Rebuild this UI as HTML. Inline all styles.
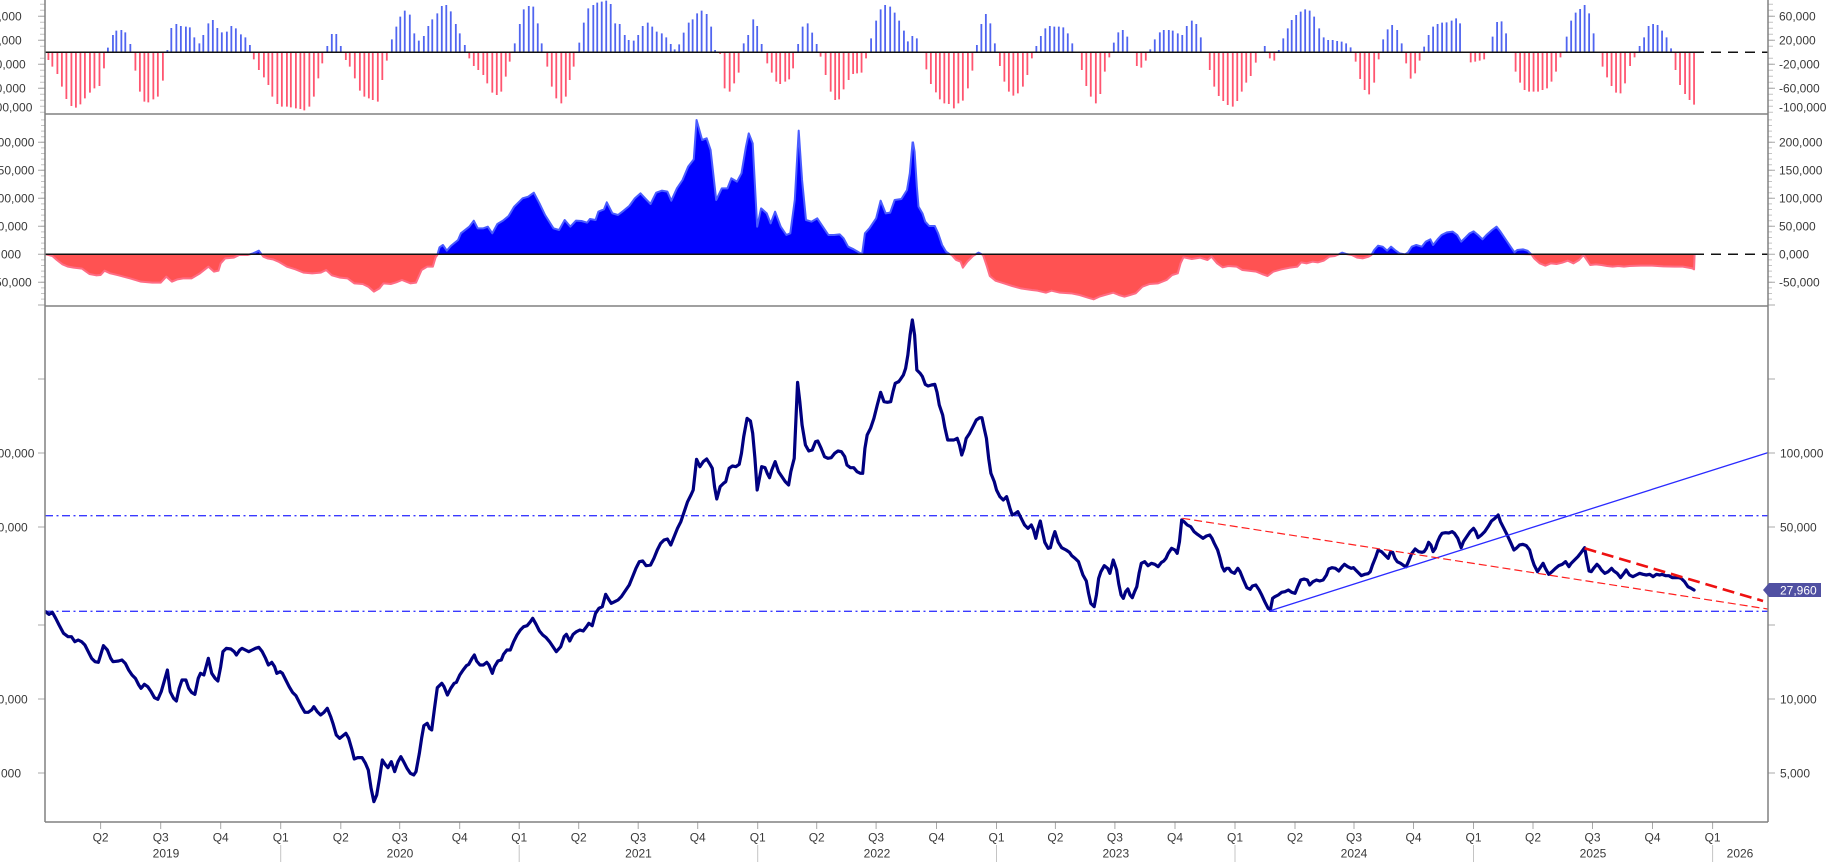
<!DOCTYPE html>
<html><head><meta charset="utf-8"><style>
html,body{margin:0;padding:0;background:#fff;}
svg{display:block;}
text{font-family:"Liberation Sans",Arial,sans-serif;font-size:12px;fill:#3a3a3a;}
</style></head><body>
<svg width="1826" height="862" viewBox="0 0 1826 862" xmlns="http://www.w3.org/2000/svg">
<defs>
<clipPath id="p1"><rect x="45" y="0" width="1723" height="114"/></clipPath>
<clipPath id="above"><rect x="45" y="114" width="1723" height="140.3"/></clipPath>
<clipPath id="below"><rect x="45" y="254.3" width="1723" height="52"/></clipPath>
<clipPath id="pm"><rect x="45" y="306" width="1723" height="516"/></clipPath>
<polygon id="a9" points="10,763 22,768 30,780 40,793 50,800 60,803 75,806 88,822 100,826 108,825 115,812 125,820 140,826 160,835 180,845 200,848 215,848 225,830 235,845 245,838 255,835 270,835 285,820 300,800 310,815 318,812 322,790 330,775 345,773 355,765 370,765 380,760 390,752 398,770 405,775 415,778 425,785 440,800 455,808 470,818 485,820 500,818 510,810 520,826 535,833 548,835 560,850 575,852 585,860 595,875 605,865 612,850 625,852 635,847 645,840 660,850 670,848 680,810 690,800 700,800 705,772 708,765 712,742 718,735 725,752 732,738 745,720 750,700 765,680 773,662 780,685 790,685 798,680 806,700 815,672 825,662 835,648 845,620 860,595 870,590 880,578 890,610 900,645 915,685 925,690 935,660 945,680 955,662 965,663 975,668 980,657 990,660 995,635 1005,628 1010,607 1020,640 1030,645 1040,632 1050,618 1060,595 1070,580 1080,598 1088,612 1098,578 1108,572 1118,575 1125,602 1135,565 1145,540 1155,500 1165,478 1170,360 1180,420 1188,415 1195,450 1205,600 1215,565 1225,565 1232,535 1242,545 1250,520 1258,440 1263,400 1270,430 1278,680 1285,625 1295,640 1302,670 1310,635 1320,680 1330,705 1337,700 1345,600 1352,392 1358,540 1365,660 1375,665 1385,655 1395,680 1405,705 1415,705 1425,703 1432,715 1440,740 1450,748 1460,758 1465,762 1470,700 1478,685 1490,655 1498,602 1507,640 1515,638 1523,600 1535,597 1545,570 1550,520 1555,425 1556,425 1556,763"/>
<polyline id="c9" points="10,763 22,768 30,780 40,793 50,800 60,803 75,806 88,822 100,826 108,825 115,812 125,820 140,826 160,835 180,845 200,848 215,848 225,830 235,845 245,838 255,835 270,835 285,820 300,800 310,815 318,812 322,790 330,775 345,773 355,765 370,765 380,760 390,752 398,770 405,775 415,778 425,785 440,800 455,808 470,818 485,820 500,818 510,810 520,826 535,833 548,835 560,850 575,852 585,860 595,875 605,865 612,850 625,852 635,847 645,840 660,850 670,848 680,810 690,800 700,800 705,772 708,765 712,742 718,735 725,752 732,738 745,720 750,700 765,680 773,662 780,685 790,685 798,680 806,700 815,672 825,662 835,648 845,620 860,595 870,590 880,578 890,610 900,645 915,685 925,690 935,660 945,680 955,662 965,663 975,668 980,657 990,660 995,635 1005,628 1010,607 1020,640 1030,645 1040,632 1050,618 1060,595 1070,580 1080,598 1088,612 1098,578 1108,572 1118,575 1125,602 1135,565 1145,540 1155,500 1165,478 1170,360 1180,420 1188,415 1195,450 1205,600 1215,565 1225,565 1232,535 1242,545 1250,520 1258,440 1263,400 1270,430 1278,680 1285,625 1295,640 1302,670 1310,635 1320,680 1330,705 1337,700 1345,600 1352,392 1358,540 1365,660 1375,665 1385,655 1395,680 1405,705 1415,705 1425,703 1432,715 1440,740 1450,748 1460,758 1465,762 1470,700 1478,685 1490,655 1498,602 1507,640 1515,638 1523,600 1535,597 1545,570 1550,520 1555,425"/>
<polygon id="a10" points="22,425 23,425 26,455 30,560 33,620 40,640 45,665 52,678 62,678 68,700 75,735 82,755 88,762 92,765 100,780 108,785 112,803 120,785 130,768 140,758 148,765 155,800 160,828 170,842 185,850 200,858 215,865 235,870 245,872 260,878 270,872 285,878 305,880 320,885 335,893 345,898 355,890 365,885 380,878 390,885 400,890 410,885 420,880 432,860 445,852 460,850 475,840 485,825 495,820 500,790 505,772 520,777 535,773 548,780 555,770 565,790 575,802 585,798 600,800 610,810 620,812 635,815 645,822 655,828 665,815 680,808 695,803 708,800 715,787 725,790 735,785 745,787 755,782 765,770 775,768 782,763 788,758 795,762 805,765 815,773 825,775 835,770 840,765 845,750 852,737 860,740 868,752 875,740 882,750 890,760 900,763 905,758 912,740 920,735 930,740 937,725 945,718 950,735 958,718 965,705 975,697 985,695 993,705 1000,725 1008,712 1015,700 1022,694 1030,705 1038,718 1045,705 1055,690 1063,680 1070,695 1080,720 1090,745 1095,757 1100,750 1110,748 1118,752 1125,763 1130,775 1140,790 1150,797 1160,790 1170,792 1180,788 1190,782 1200,790 1210,780 1218,765 1222,775 1230,795 1240,793 1250,795 1260,798 1270,800 1280,798 1290,800 1300,798 1320,797 1340,797 1360,799 1380,800 1395,800 1405,803 1412,805 1415,808 1416,763 22,763"/>
<polyline id="c10" points="23,425 26,455 30,560 33,620 40,640 45,665 52,678 62,678 68,700 75,735 82,755 88,762 92,765 100,780 108,785 112,803 120,785 130,768 140,758 148,765 155,800 160,828 170,842 185,850 200,858 215,865 235,870 245,872 260,878 270,872 285,878 305,880 320,885 335,893 345,898 355,890 365,885 380,878 390,885 400,890 410,885 420,880 432,860 445,852 460,850 475,840 485,825 495,820 500,790 505,772 520,777 535,773 548,780 555,770 565,790 575,802 585,798 600,800 610,810 620,812 635,815 645,822 655,828 665,815 680,808 695,803 708,800 715,787 725,790 735,785 745,787 755,782 765,770 775,768 782,763 788,758 795,762 805,765 815,773 825,775 835,770 840,765 845,750 852,737 860,740 868,752 875,740 882,750 890,760 900,763 905,758 912,740 920,735 930,740 937,725 945,718 950,735 958,718 965,705 975,697 985,695 993,705 1000,725 1008,712 1015,700 1022,694 1030,705 1038,718 1045,705 1055,690 1063,680 1070,695 1080,720 1090,745 1095,757 1100,750 1110,748 1118,752 1125,763 1130,775 1140,790 1150,797 1160,790 1170,792 1180,788 1190,782 1200,790 1210,780 1218,765 1222,775 1230,795 1240,793 1250,795 1260,798 1270,800 1280,798 1290,800 1300,798 1320,797 1340,797 1360,799 1380,800 1395,800 1405,803 1412,805 1415,808 1416,763"/>
</defs>
<rect width="1826" height="862" fill="#fff"/>

<!-- ticks -->
<g stroke="#c4c4c4" stroke-width="1">
<path d="M40 4.3H45M40 10.3H45M40 16.3H45M40 22.3H45M40 28.3H45M40 34.3H45M40 40.3H45M40 46.3H45M40 58.3H45M40 64.3H45M40 70.3H45M40 76.3H45M40 82.3H45M40 88.3H45M40 94.3H45M40 100.3H45M40 106.3H45M40 112.3H45"/>
<path d="M1768 4.3H1773M1768 10.3H1773M1768 16.3H1773M1768 22.3H1773M1768 28.3H1773M1768 34.3H1773M1768 40.3H1773M1768 46.3H1773M1768 58.3H1773M1768 64.3H1773M1768 70.3H1773M1768 76.3H1773M1768 82.3H1773M1768 88.3H1773M1768 94.3H1773M1768 100.3H1773M1768 106.3H1773M1768 112.3H1773"/>
<path d="M41 119.9H45M41 125.5H45M41 131.1H45M41 136.7H45M41 142.3H45M41 147.9H45M41 153.5H45M41 159.1H45M41 164.7H45M41 170.3H45M41 175.9H45M41 181.5H45M41 187.1H45M41 192.7H45M41 198.3H45M41 203.9H45M41 209.5H45M41 215.1H45M41 220.7H45M41 226.3H45M41 231.9H45M41 237.5H45M41 243.1H45M41 248.7H45M41 259.9H45M41 265.5H45M41 271.1H45M41 276.7H45M41 282.3H45M41 287.9H45M41 293.5H45M41 299.1H45"/>
<path d="M1768 119.9H1772M1768 125.5H1772M1768 131.1H1772M1768 136.7H1772M1768 142.3H1772M1768 147.9H1772M1768 153.5H1772M1768 159.1H1772M1768 164.7H1772M1768 170.3H1772M1768 175.9H1772M1768 181.5H1772M1768 187.1H1772M1768 192.7H1772M1768 198.3H1772M1768 203.9H1772M1768 209.5H1772M1768 215.1H1772M1768 220.7H1772M1768 226.3H1772M1768 231.9H1772M1768 237.5H1772M1768 243.1H1772M1768 248.7H1772M1768 259.9H1772M1768 265.5H1772M1768 271.1H1772M1768 276.7H1772M1768 282.3H1772M1768 287.9H1772M1768 293.5H1772M1768 299.1H1772"/>
</g>
<g stroke="#a8a8a8" stroke-width="1">
<path d="M38 16.3H45M38 40.3H45M38 64.3H45M38 88.3H45M1768 16.3H1775M1768 40.3H1775M1768 64.3H1775M1768 88.3H1775"/>
<path d="M38 142.3H45M38 170.3H45M38 198.3H45M38 226.3H45M38 254.3H45M38 282.3H45M1768 142.3H1775M1768 170.3H1775M1768 198.3H1775M1768 226.3H1775M1768 254.3H1775M1768 282.3H1775"/>
<path d="M38 305H45M38 379H45M38 453H45M38 527H45M38 625H45M38 699H45M38 773H45M1768 305H1775M1768 379H1775M1768 453H1775M1768 527H1775M1768 625H1775M1768 699H1775M1768 773H1775"/>
<path d="M100.6 822V829M160.7 822V829M220.7 822V829M280.7 822V829M340.8 822V829M399.7 822V829M459.7 822V829M519.2 822V829M578.7 822V829M638.2 822V829M697.7 822V829M757.7 822V829M816.7 822V829M876.1 822V829M936.5 822V829M996.5 822V829M1055.4 822V829M1114.9 822V829M1175 822V829M1235 822V829M1295 822V829M1354 822V829M1413.5 822V829M1473.5 822V829M1533 822V829M1592.5 822V829M1652.5 822V829M1712.6 822V829"/>
<path d="M280.7 845V862M519.2 845V862M757.7 845V862M996.5 845V862M1235 845V862M1473.5 845V862M1712.6 845V862" stroke="#c4c4c4"/>
</g>

<!-- Panel 1 histogram -->
<g clip-path="url(#p1)">
<g transform="translate(40,0) scale(0.56117,0.33333)" fill="none" stroke-width="1.8">
<path vector-effect="non-scaling-stroke" stroke="#ff5570" d="M15 157V180M22 157V200M31 157V222M39 157V260M47 157V297M56 157V318M64 157V323M72 157V313M80 157V295M89 157V278M97 157V265M106 157V258M114 157V205M170 157V212M178 157V275M186 157V305M193 157V307M202 157V298M210 157V290M219 157V242M381 157V178M390 157V210M399 157V232M407 157V255M414 157V290M423 157V312M431 157V320M440 157V320M447 157V322M456 157V325M464 157V327M471 157V331M480 157V320M488 157V290M496 157V235M503 157V190M545 157V180M552 157V200M561 157V235M570 157V272M578 157V290M586 157V295M593 157V300M602 157V305M610 157V240M618 157V182M765 157V175M773 157V198M781 157V210M790 157V225M797 157V250M806 157V278M814 157V285M822 157V275M830 157V230M837 157V185M904 157V200M912 157V260M920 157V295M929 157V310M937 157V290M944 157V240M951 157V200M1212 157V162M1220 157V265M1229 157V275M1237 157V250M1245 157V218M1296 157V190M1304 157V218M1312 157V245M1319 157V252M1328 157V245M1335 157V238M1342 157V205M1391 157V170M1400 157V225M1409 157V275M1417 157V300M1424 157V298M1432 157V268M1441 157V240M1449 157V222M1456 157V220M1464 157V218M1472 157V175"/>
<path vector-effect="non-scaling-stroke" stroke="#5065f0" d="M121 157V143M130 157V105M136 157V92M145 157V90M152 157V97M161 157V132M227 157V150M234 157V84M243 157V72M251 157V78M260 157V80M267 157V82M275 157V112M284 157V130M291 157V105M300 157V70M308 157V60M316 157V84M324 157V97M333 157V95M341 157V78M349 157V85M358 157V103M366 157V112M374 157V135M512 157V138M520 157V102M528 157V102M536 157V138M627 157V118M635 157V80M642 157V50M650 157V32M659 157V44M667 157V100M675 157V122M684 157V108M692 157V78M699 157V58M708 157V40M716 157V18M724 157V15M732 157V34M741 157V72M748 157V100M757 157V135M846 157V130M855 157V72M862 157V28M871 157V18M879 157V20M887 157V70M894 157V130M961 157V128M969 157V68M977 157V25M986 157V15M993 157V8M1001 157V5M1009 157V2M1017 157V12M1025 157V70M1033 157V72M1042 157V105M1049 157V120M1058 157V122M1066 157V105M1074 157V78M1083 157V68M1091 157V80M1099 157V95M1108 157V100M1116 157V112M1124 157V132M1131 157V148M1139 157V133M1147 157V98M1156 157V68M1163 157V58M1171 157V40M1179 157V32M1188 157V42M1196 157V80M1203 157V150M1254 157V130M1262 157V105M1271 157V58M1278 157V78M1286 157V132M1351 157V132M1359 157V80M1368 157V70M1376 157V98M1384 157V132M1481 157V115M1490 157V62M1498 157V28M1506 157V15M1515 157V20M1523 157V38M1531 157V62"/>
</g>
<g transform="translate(900,0) scale(0.56117,0.33333)" fill="none" stroke-width="1.8">
<path vector-effect="non-scaling-stroke" stroke="#5065f0" d="M7 157V92M14 157V124M22 157V108M30 157V115M137 157V135M145 157V72M153 157V42M161 157V70M169 157V130M243 157V138M251 157V108M259 157V85M267 157V78M275 157V80M283 157V80M291 157V82M299 157V100M307 157V130M381 157V128M389 157V97M397 157V90M405 157V110M446 157V148M454 157V118M463 157V97M470 157V90M479 157V90M486 157V92M495 157V100M503 157V105M511 157V78M520 157V62M528 157V72M536 157V112M650 157V138M675 157V150M683 157V115M691 157V85M698 157V60M706 157V45M714 157V35M722 157V28M730 157V32M738 157V50M747 157V85M755 157V112M763 157V120M771 157V120M779 157V123M787 157V125M795 157V130M803 157V142M861 157V118M869 157V88M877 157V75M886 157V90M894 157V130M934 157V140M942 157V105M950 157V80M958 157V72M966 157V68M974 157V67M983 157V62M991 157V55M998 157V70M1056 157V110M1064 157V66M1072 157V64M1080 157V100M1188 157V110M1196 157V62M1204 157V38M1212 157V27M1220 157V15M1228 157V40M1236 157V100M1318 157V138M1326 157V112M1334 157V78M1342 157V72M1350 157V75M1358 157V92M1366 157V112M1374 157V145"/>
<path vector-effect="non-scaling-stroke" stroke="#ff5570" d="M47 157V208M55 157V252M64 157V277M71 157V298M79 157V310M87 157V312M96 157V325M104 157V310M112 157V302M121 157V265M129 157V212M178 157V198M186 157V245M194 157V275M202 157V287M210 157V280M219 157V260M227 157V225M235 157V175M324 157V210M332 157V258M340 157V290M349 157V310M357 157V282M365 157V215M373 157V172M422 157V198M430 157V203M438 157V182M552 157V210M560 157V260M568 157V288M576 157V303M584 157V315M593 157V320M601 157V303M609 157V275M617 157V248M625 157V228M634 157V188M659 157V175M667 157V182M812 157V185M820 157V237M828 157V270M836 157V283M845 157V248M853 157V178M902 157V190M910 157V236M918 157V220M926 157V182M1017 157V187M1025 157V185M1033 157V182M1041 157V178M1097 157V215M1105 157V248M1113 157V270M1121 157V275M1129 157V275M1137 157V275M1145 157V270M1153 157V265M1161 157V245M1169 157V215M1177 157V172M1252 157V200M1260 157V232M1268 157V258M1276 157V278M1284 157V280M1292 157V250M1301 157V198M1309 157V172M1382 157V210M1390 157V255M1399 157V282M1407 157V300M1415 157V314"/>
</g>
</g>
<path d="M45 52.3H1694" stroke="#111" stroke-width="1.5"/>
<path d="M1694 52.3H1768" stroke="#111" stroke-width="1.5" stroke-dasharray="10 7"/>

<!-- Panel 2 area -->
<g clip-path="url(#above)">
<g transform="translate(40,0) scale(0.56117,0.33333)">
<use href="#a9" fill="#0000ff" stroke="none"/>
</g>
<g transform="translate(900,0) scale(0.56117,0.33333)">
<use href="#a10" fill="#0000ff" stroke="none"/>
</g>
<g transform="translate(40,0) scale(0.56117,0.33333)">
<polyline vector-effect="non-scaling-stroke" fill="none" stroke="#4a5cff" stroke-width="2" stroke-linejoin="round" points="10,763 22,768 30,780 40,793 50,800 60,803 75,806 88,822 100,826 108,825 115,812 125,820 140,826 160,835 180,845 200,848 215,848 225,830 235,845 245,838 255,835 270,835 285,820 300,800 310,815 318,812 322,790 330,775 345,773 355,765 370,765 380,760 390,752 398,770 405,775 415,778 425,785 440,800 455,808 470,818 485,820 500,818 510,810 520,826 535,833 548,835 560,850 575,852 585,860 595,875 605,865 612,850 625,852 635,847 645,840 660,850 670,848 680,810 690,800 700,800 705,772 708,765 712,742 718,735 725,752 732,738 745,720 750,700 765,680 773,662 780,685 790,685 798,680 806,700 815,672 825,662 835,648 845,620 860,595 870,590 880,578 890,610 900,645 915,685 925,690 935,660 945,680 955,662 965,663 975,668 980,657 990,660 995,635 1005,628 1010,607 1020,640 1030,645 1040,632 1050,618 1060,595 1070,580 1080,598 1088,612 1098,578 1108,572 1118,575 1125,602 1135,565 1145,540 1155,500 1165,478 1170,360 1180,420 1188,415 1195,450 1205,600 1215,565 1225,565 1232,535 1242,545 1250,520 1258,440 1263,400 1270,430 1278,680 1285,625 1295,640 1302,670 1310,635 1320,680 1330,705 1337,700 1345,600 1352,392 1358,540 1365,660 1375,665 1385,655 1395,680 1405,705 1415,705 1425,703 1432,715 1440,740 1450,748 1460,758 1465,762 1470,700 1478,685 1490,655 1498,602 1507,640 1515,638 1523,600 1535,597 1545,570 1550,520 1555,425"/>
</g>
<g transform="translate(900,0) scale(0.56117,0.33333)">
<polyline vector-effect="non-scaling-stroke" fill="none" stroke="#4a5cff" stroke-width="2" stroke-linejoin="round" points="23,425 26,455 30,560 33,620 40,640 45,665 52,678 62,678 68,700 75,735 82,755 88,762 92,765 100,780 108,785 112,803 120,785 130,768 140,758 148,765 155,800 160,828 170,842 185,850 200,858 215,865 235,870 245,872 260,878 270,872 285,878 305,880 320,885 335,893 345,898 355,890 365,885 380,878 390,885 400,890 410,885 420,880 432,860 445,852 460,850 475,840 485,825 495,820 500,790 505,772 520,777 535,773 548,780 555,770 565,790 575,802 585,798 600,800 610,810 620,812 635,815 645,822 655,828 665,815 680,808 695,803 708,800 715,787 725,790 735,785 745,787 755,782 765,770 775,768 782,763 788,758 795,762 805,765 815,773 825,775 835,770 840,765 845,750 852,737 860,740 868,752 875,740 882,750 890,760 900,763 905,758 912,740 920,735 930,740 937,725 945,718 950,735 958,718 965,705 975,697 985,695 993,705 1000,725 1008,712 1015,700 1022,694 1030,705 1038,718 1045,705 1055,690 1063,680 1070,695 1080,720 1090,745 1095,757 1100,750 1110,748 1118,752 1125,763 1130,775 1140,790 1150,797 1160,790 1170,792 1180,788 1190,782 1200,790 1210,780 1218,765 1222,775 1230,795 1240,793 1250,795 1260,798 1270,800 1280,798 1290,800 1300,798 1320,797 1340,797 1360,799 1380,800 1395,800 1405,803 1412,805 1415,808"/>
</g>
</g>
<g clip-path="url(#below)">
<g transform="translate(40,0) scale(0.56117,0.33333)">
<use href="#a9" fill="#ff5252" stroke="none"/>
<polyline vector-effect="non-scaling-stroke" fill="none" stroke="#ff6c84" stroke-width="2" stroke-linejoin="round" points="10,763 22,768 30,780 40,793 50,800 60,803 75,806 88,822 100,826 108,825 115,812 125,820 140,826 160,835 180,845 200,848 215,848 225,830 235,845 245,838 255,835 270,835 285,820 300,800 310,815 318,812 322,790 330,775 345,773 355,765 370,765 380,760 390,752 398,770 405,775 415,778 425,785 440,800 455,808 470,818 485,820 500,818 510,810 520,826 535,833 548,835 560,850 575,852 585,860 595,875 605,865 612,850 625,852 635,847 645,840 660,850 670,848 680,810 690,800 700,800 705,772 708,765 712,742"/>
</g>
<g transform="translate(900,0) scale(0.56117,0.33333)">
<use href="#a10" fill="#ff5252" stroke="none"/>
<polyline vector-effect="non-scaling-stroke" fill="none" stroke="#ff6c84" stroke-width="2" stroke-linejoin="round" points="88,762 92,765 100,780 108,785 112,803 120,785 130,768 140,758 148,765 155,800 160,828 170,842 185,850 200,858 215,865 235,870 245,872 260,878 270,872 285,878 305,880 320,885 335,893 345,898 355,890 365,885 380,878 390,885 400,890 410,885 420,880 432,860 445,852 460,850 475,840 485,825 495,820 500,790 505,772 520,777 535,773 548,780 555,770 565,790 575,802 585,798 600,800 610,810 620,812 635,815 645,822 655,828 665,815 680,808 695,803 708,800 715,787 725,790 735,785 745,787 755,782 765,770 775,768 782,763 788,758 795,762 805,765 815,773 825,775 835,770 840,765 845,750 1125,763 1130,775 1140,790 1150,797 1160,790 1170,792 1180,788 1190,782 1200,790 1210,780 1218,765 1222,775 1230,795 1240,793 1250,795 1260,798 1270,800 1280,798 1290,800 1300,798 1320,797 1340,797 1360,799 1380,800 1395,800 1405,803 1412,805 1415,808 1416,763"/>
</g>
</g>
<path d="M45 254.3H1694" stroke="#111" stroke-width="1.5"/>
<path d="M1694 254.3H1768" stroke="#111" stroke-width="1.5" stroke-dasharray="10 7"/>

<!-- Main panel -->
<g clip-path="url(#pm)">
<path d="M45 515.7H1768M45 611.3H1768" stroke="#3a3aff" stroke-width="1.3" stroke-dasharray="8 3.5 2 3.5" fill="none"/>
<g fill="none" stroke="#000080" stroke-width="3.2" stroke-linejoin="round" stroke-linecap="round">
<g transform="translate(40,305) scale(0.56117,0.33333)">
<polyline vector-effect="non-scaling-stroke" points="10,920 16,928 22,922 28,940 34,960 42,985 50,995 56,995 62,1010 68,1005 74,1010 80,1020 86,1040 92,1060 98,1070 104,1072 108,1050 113,1022 120,1035 126,1060 130,1070 140,1068 146,1065 152,1075 158,1095 164,1110 170,1120 176,1140 180,1150 186,1138 192,1145 198,1160 204,1178 210,1183 216,1160 222,1125 227,1095 232,1160 238,1180 243,1188 248,1150 253,1125 260,1125 265,1150 270,1162 276,1168 282,1120 286,1105 292,1110 300,1060 306,1105 312,1120 317,1128 322,1085 326,1040 332,1030 340,1032 346,1040 350,1050 356,1035 360,1030 366,1035 372,1040 378,1035 384,1030 390,1027 396,1040 402,1060 407,1080 413,1072 418,1085 422,1105 428,1100 432,1105 438,1125 444,1145 450,1162 456,1172 460,1185 466,1205 472,1222 478,1222 484,1215 488,1205 494,1220 500,1230 506,1222 512,1210 518,1235 522,1255 528,1290 534,1300 540,1292 545,1285 550,1300 556,1335 560,1362 566,1358 574,1358 580,1375 585,1395 590,1450 595,1490 600,1470 605,1420 610,1365 615,1378 620,1388 626,1370 632,1400 638,1370 643,1355 648,1370 654,1390 660,1405 666,1410 670,1400 676,1345 680,1300 684,1262 690,1255 694,1270 698,1275 703,1210 708,1148 716,1135 720,1145 726,1170 732,1150 738,1135 742,1132 748,1110 754,1095 760,1082 764,1078 770,1060 774,1050 778,1068 784,1080 790,1080 796,1072 800,1080 806,1105 810,1085 816,1068 822,1065 826,1048 832,1035 838,1035 844,1010 850,990 856,975 862,965 868,962 874,950 878,940 884,958 890,978 896,990 902,998 908,1010 914,1025 920,1040 928,1025 934,995 938,988 944,1008 950,988 956,980 962,975 968,978 974,965 978,955 984,962 990,925 996,910 1002,905 1008,868 1014,885 1018,895 1024,890 1030,885 1036,875 1042,860 1050,840 1056,815 1062,790 1068,770 1074,768 1080,782 1088,780 1094,760 1100,735 1106,715 1112,705 1118,702 1124,720 1130,695 1136,670 1142,650 1148,620 1154,590 1160,570 1164,555 1170,463 1176,485 1182,470 1188,462 1194,478 1198,490 1202,545 1206,582 1212,545 1218,535 1222,530 1228,490 1234,483 1240,485 1246,478 1250,445 1254,395 1260,340 1266,348 1270,385 1274,460 1278,555 1282,520 1286,485 1292,488 1296,505 1300,518 1304,495 1310,470 1316,500 1322,515 1328,530 1334,540 1338,500 1344,460 1350,232 1354,290 1358,360 1364,420 1370,438 1376,435 1382,410 1386,408 1392,430 1398,455 1404,460 1410,458 1416,445 1422,438 1428,440 1434,455 1438,480 1444,488 1450,488 1456,500 1462,505 1466,505 1470,430 1474,390 1480,370 1486,340 1492,300 1498,262 1504,290 1510,292 1516,290 1520,260 1524,235 1530,230"/>
</g>
<g transform="translate(900,305) scale(0.56117,0.33333)">
<polyline vector-effect="non-scaling-stroke" points="-2.5,230 0,225 6,210 10,190 14,150 18,90 22,45 26,90 30,195 36,205 40,215 45,238 50,243 56,240 62,238 66,262 70,300 76,330 80,368 85,405 90,405 96,405 102,400 106,420 110,450 114,430 118,400 124,385 130,365 136,345 142,338 146,338 150,370 154,400 158,460 162,505 168,530 172,555 178,575 184,585 190,575 196,610 200,630 206,625 210,620 216,640 222,660 228,670 234,660 238,675 242,700 246,670 250,648 254,680 258,712 264,730 268,728 272,700 276,680 282,712 288,728 296,735 302,742 306,752 312,760 318,770 322,790 326,810 332,828 336,865 340,895 346,905 350,870 354,820 358,800 364,782 370,790 374,805 380,765 386,795 390,838 394,870 398,880 402,860 406,852 410,870 414,878 418,860 422,845 426,805 430,775 436,770 442,782 448,775 454,778 460,785 466,772 470,768 474,760 478,745 484,730 490,735 494,745 498,710 502,645 506,650 512,660 518,665 524,680 530,688 536,695 540,700 546,693 552,690 556,700 560,715 566,735 570,758 574,785 578,798 582,790 586,790 590,800 596,805 602,790 606,800 612,825 618,848 624,853 628,843 634,840 640,855 644,868 650,890 656,910 660,915 664,880 668,875 674,870 680,862 686,860 692,855 698,862 704,865 708,848 714,825 720,822 726,825 730,840 736,830 742,825 748,828 754,825 760,810 764,792 770,788 776,790 782,798 788,785 792,778 798,785 804,790 808,788 812,795 818,805 822,812 828,808 834,806 838,800 842,780 848,755 852,735 858,740 864,750 870,760 874,742 878,742 882,760 886,770 892,775 898,782 902,785 906,770 912,745 918,732 924,740 930,742 934,740 938,730 942,712 946,720 950,740 954,730 958,710 962,695 966,685 972,683 978,684 984,680 988,685 994,700 1000,728 1004,710 1010,695 1016,680 1022,670 1026,680 1030,698 1036,690 1042,680 1048,665 1054,648 1060,640 1066,630 1070,650 1076,670 1082,690 1088,712 1094,735 1098,730 1104,720 1110,718 1116,722 1122,735 1126,760 1130,780 1136,800 1142,785 1146,775 1150,790 1156,808 1162,800 1168,790 1174,782 1180,778 1186,770 1192,785 1196,775 1202,765 1208,755 1214,742 1220,728 1224,765 1228,798 1232,800 1236,790 1242,778 1246,785 1250,795 1256,805 1262,800 1268,790 1272,798 1278,805 1284,818 1290,805 1294,795 1300,810 1306,815 1312,810 1318,805 1324,808 1330,810 1336,808 1342,815 1348,808 1354,810 1358,808 1364,812 1370,812 1376,818 1382,818 1388,818 1392,820 1398,830 1404,845 1410,850 1415,855"/>
</g>
</g>
<path d="M1269.3 611L1767.6 452.7" stroke="#2a2aff" stroke-width="1.3" fill="none"/>
<path d="M1182.3 518.3L1767.6 609" stroke="#ff2020" stroke-width="1.2" stroke-dasharray="8 4" fill="none"/>
<path d="M1584.6 548.3L1763 601" stroke="#ee1111" stroke-width="2.6" stroke-dasharray="12 6" fill="none"/>
</g>

<!-- frame -->
<g stroke="#808080" stroke-width="1.5" fill="none">
<path d="M45 0V822M1768 0V822"/>
<path d="M45 114H1768M45 306H1768M45 822H1768"/>
</g>

<!-- labels panel 1 -->
<g>
<text x="-15" y="20.6">60,000</text>
<text x="-15" y="44.6">20,000</text>
<text x="-15" y="68.6">-20,000</text>
<text x="-15" y="92.6">-60,000</text>
<text x="-15" y="111.3">-100,000</text>
<text x="1779" y="20.6">60,000</text>
<text x="1779" y="44.6">20,000</text>
<text x="1779" y="68.6">-20,000</text>
<text x="1779" y="92.6">-60,000</text>
<text x="1779" y="111.3">-100,000</text>
</g>
<!-- labels panel 2 -->
<g>
<text x="-9" y="146.6">200,000</text>
<text x="-9" y="174.6">150,000</text>
<text x="-9" y="202.6">100,000</text>
<text x="-9" y="230.6">50,000</text>
<text x="-9" y="258.6">0,000</text>
<text x="-9" y="286.6">-50,000</text>
<text x="1779" y="146.6">200,000</text>
<text x="1779" y="174.6">150,000</text>
<text x="1779" y="202.6">100,000</text>
<text x="1779" y="230.6">50,000</text>
<text x="1779" y="258.6">0,000</text>
<text x="1779" y="286.6">-50,000</text>
</g>
<!-- labels main -->
<g>
<text x="-9" y="457.3">100,000</text>
<text x="-9" y="531.3">50,000</text>
<text x="-9" y="703.3">10,000</text>
<text x="-9" y="777.3">5,000</text>
<text x="1780" y="457.3">100,000</text>
<text x="1780" y="531.3">50,000</text>
<text x="1780" y="703.3">10,000</text>
<text x="1780" y="777.3">5,000</text>
</g>
<polygon points="1763,590 1769,583 1821,583 1821,597 1769,597" fill="#5050a2"/>
<text x="1780" y="594.3" style="fill:#fff">27,960</text>

<!-- x axis labels -->
<g text-anchor="middle">
<text x="100.6" y="841.5">Q2</text><text x="160.7" y="841.5">Q3</text><text x="220.7" y="841.5">Q4</text>
<text x="280.7" y="841.5">Q1</text><text x="340.8" y="841.5">Q2</text><text x="399.7" y="841.5">Q3</text><text x="459.7" y="841.5">Q4</text>
<text x="519.2" y="841.5">Q1</text><text x="578.7" y="841.5">Q2</text><text x="638.2" y="841.5">Q3</text><text x="697.7" y="841.5">Q4</text>
<text x="757.7" y="841.5">Q1</text><text x="816.7" y="841.5">Q2</text><text x="876.1" y="841.5">Q3</text><text x="936.5" y="841.5">Q4</text>
<text x="996.5" y="841.5">Q1</text><text x="1055.4" y="841.5">Q2</text><text x="1114.9" y="841.5">Q3</text><text x="1175" y="841.5">Q4</text>
<text x="1235" y="841.5">Q1</text><text x="1295" y="841.5">Q2</text><text x="1354" y="841.5">Q3</text><text x="1413.5" y="841.5">Q4</text>
<text x="1473.5" y="841.5">Q1</text><text x="1533" y="841.5">Q2</text><text x="1592.5" y="841.5">Q3</text><text x="1652.5" y="841.5">Q4</text>
<text x="1712.6" y="841.5">Q1</text>
<text x="166" y="857.5">2019</text>
<text x="400" y="857.5">2020</text>
<text x="638.5" y="857.5">2021</text>
<text x="877" y="857.5">2022</text>
<text x="1115.8" y="857.5">2023</text>
<text x="1354" y="857.5">2024</text>
<text x="1593" y="857.5">2025</text>
<text x="1740" y="857.5">2026</text>
</g>
</svg>
</body></html>
